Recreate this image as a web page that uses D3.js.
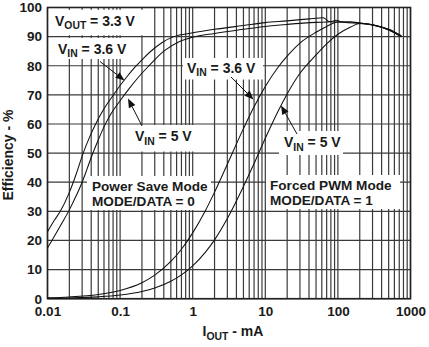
<!DOCTYPE html>
<html>
<head>
<meta charset="utf-8">
<script src="https://cdn.jsdelivr.net/npm/d3@7/dist/d3.min.js"></script>
<style>
  html, body { margin: 0; padding: 0; background: #fff; }
  svg { display: block; }
  text { font-family: "Liberation Sans", Arial, Helvetica, sans-serif; font-weight: bold; fill: #1a1a1a; }
</style>
</head>
<body>
<svg id="chart" width="429" height="347"></svg>
<script>
// ---------------- DATA ----------------
const xTickValues = [0.01, 0.1, 1, 10, 100, 1000];
const xTickLabels = ["0.01", "0.1", "1", "10", "100", "1000"];
const yTickValues = [0, 10, 20, 30, 40, 50, 60, 70, 80, 90, 100];
const yTickLabels = ["0", "10", "20", "30", "40", "50", "60", "70", "80", "90", "100"];

// Power Save Mode, VIN = 3.6 V
const currentPSM36 = [0.01, 0.0125, 0.015, 0.02, 0.025, 0.031, 0.038, 0.045, 0.06, 0.08,
  0.1, 0.125, 0.16, 0.2, 0.26, 0.38, 0.55, 1, 2, 5,
  10, 20, 40, 63, 68, 75, 100, 150, 200, 300, 500, 750];
const effPSM36 = [23, 27, 30, 36.5, 43, 50, 55.5, 59.5, 65.2, 69.8,
  73.2, 76.3, 79.5, 82, 84.8, 88, 90, 91.3, 92.5, 93.8,
  94.8, 95.4, 96.1, 96.5, 96, 95.2, 95, 95, 94.7, 94.1, 92.5, 90.2];

// Power Save Mode, VIN = 5 V
const currentPSM5 = [0.01, 0.0115, 0.015, 0.02, 0.025, 0.03, 0.035, 0.04, 0.05, 0.06,
  0.075, 0.1, 0.13, 0.175, 0.25, 0.4, 0.66, 1, 2, 5,
  10, 20, 50, 80, 95, 105, 120, 200, 300, 500, 750];
const effPSM5 = [17.4, 20, 25, 30.5, 35.5, 40, 44.5, 48.5, 54.5, 59,
  63.5, 68, 71.8, 75.8, 80, 85, 88.3, 89.8, 91.1, 92.5,
  93.5, 94.2, 94.9, 95.1, 95.6, 95.3, 94.9, 94.5, 94, 92.3, 90];

// Forced PWM Mode, VIN = 3.6 V
const currentPWM36 = [0.01, 0.02, 0.05, 0.1, 0.2, 0.3, 0.5, 0.7, 1, 1.5,
  2, 3, 5, 7, 10, 15, 20, 30, 50, 70,
  100, 150, 200, 300, 500, 750];
const effPWM36 = [0.3, 0.6, 1.45, 2.85, 5.5, 8.1, 12.8, 17, 22.6, 30.3,
  36.6, 46.2, 58.4, 65.9, 72.9, 79.5, 83.3, 87.8, 91.5, 93.5,
  95, 95, 94.7, 94.1, 92.5, 90.2];

// Forced PWM Mode, VIN = 5 V
const currentPWM5 = [0.01, 0.02, 0.05, 0.1, 0.2, 0.3, 0.5, 0.7, 1, 1.5,
  2, 3, 5, 7, 10, 15, 20, 30, 50, 70,
  100, 150, 200, 300, 500, 750];
const effPWM5 = [0.13, 0.25, 0.63, 1.26, 2.5, 3.7, 6, 8.2, 11.3, 16,
  20.2, 27.5, 38.5, 46.4, 55.1, 64.4, 70.3, 77.4, 83.7, 87.5,
  90.8, 93.3, 94.5, 94, 92.3, 90];

// ---------------- CHART ----------------
const svg = d3.select("#chart");
const mLeft = 47.5, mRight = 410.5, mTop = 7.5, mBottom = 298.7;

const x = d3.scaleLog().domain([0.01, 1000]).range([mLeft, mRight]);
const y = d3.scaleLinear().domain([0, 100]).range([mBottom, mTop]);

// grid: minor + major verticals
const vLines = [];
for (let e = -2; e < 3; e++) {
  for (let m = 1; m <= 9; m++) vLines.push(m * Math.pow(10, e));
}
vLines.push(1000);

const grid = svg.append("g");
grid.selectAll("line.v").data(vLines).join("line")
  .attr("x1", d => x(d)).attr("x2", d => x(d))
  .attr("y1", mTop).attr("y2", mBottom)
  .attr("stroke", "#3a3a3a").attr("stroke-width", 1.2);
grid.selectAll("line.h").data(yTickValues).join("line")
  .attr("x1", mLeft).attr("x2", mRight)
  .attr("y1", d => y(d)).attr("y2", d => y(d))
  .attr("stroke", "#3a3a3a").attr("stroke-width", 1.2);

// white label backgrounds (cover grid)
const boxes = [
  [48.5, 9.8, 99, 25.5],
  [48.5, 38, 82.5, 21],
  [131, 125, 63, 26.5],
  [183, 58, 80, 21.5],
  [279, 131, 64, 24],
  [87, 176, 124, 34],
  [266, 175, 134, 34]
];
svg.append("g").selectAll("rect").data(boxes).join("rect")
  .attr("x", d => d[0]).attr("y", d => d[1])
  .attr("width", d => d[2]).attr("height", d => d[3])
  .attr("fill", "#fff");

// border
svg.append("rect")
  .attr("x", mLeft).attr("y", mTop)
  .attr("width", mRight - mLeft).attr("height", mBottom - mTop)
  .attr("fill", "none").attr("stroke", "#222").attr("stroke-width", 1.6);

// curves
const series = [
  [currentPSM36, effPSM36],
  [currentPSM5, effPSM5],
  [currentPWM36, effPWM36],
  [currentPWM5, effPWM5]
];
const line = d3.line()
  .x(d => x(d[0])).y(d => y(d[1]))
  .curve(d3.curveMonotoneX);
svg.append("g").selectAll("path").data(series).join("path")
  .attr("d", s => line(s[0].map((c, i) => [c, s[1][i]])))
  .attr("fill", "none").attr("stroke", "#111").attr("stroke-width", 1.05);

// axes (labels only)
const xAxis = d3.axisBottom(x).tickValues(xTickValues)
  .tickFormat((d, i) => xTickLabels[i]).tickSize(0).tickPadding(7.5);
const gx = svg.append("g").attr("transform", `translate(0,${mBottom})`).call(xAxis);
gx.select(".domain").remove();
gx.selectAll("text").style("font-size", "13.5px").attr("fill", "#1a1a1a")
  .attr("font-family", "Liberation Sans, Arial, sans-serif").attr("font-weight", "bold");

const yAxis = d3.axisLeft(y).tickValues(yTickValues)
  .tickFormat((d, i) => yTickLabels[i]).tickSize(0).tickPadding(5.5);
const gy = svg.append("g").attr("transform", `translate(${mLeft},0)`).call(yAxis);
gy.select(".domain").remove();
gy.selectAll("text").style("font-size", "13.5px").attr("fill", "#1a1a1a")
  .attr("font-family", "Liberation Sans, Arial, sans-serif").attr("font-weight", "bold");

// helper: text with subscript
function subText(g, xPos, yPos, main, sub, rest, size) {
  const t = g.append("text").attr("x", xPos).attr("y", yPos).style("font-size", size + "px");
  t.append("tspan").text(main);
  t.append("tspan").text(sub).attr("dy", 3.5).style("font-size", (size * 0.74) + "px");
  t.append("tspan").text(rest).attr("dy", -3.5);
  return t;
}

const ann = svg.append("g");
subText(ann, 55, 25.5, "V", "OUT", " = 3.3 V", 14);
subText(ann, 58, 53.5, "V", "IN", " = 3.6 V", 14);
subText(ann, 135, 141, "V", "IN", " = 5 V", 14);
subText(ann, 187, 72.5, "V", "IN", " = 3.6 V", 14);
subText(ann, 284, 147, "V", "IN", " = 5 V", 14);

ann.append("text").attr("x", 92).attr("y", 191).style("font-size", "13.6px").text("Power Save Mode");
ann.append("text").attr("x", 92).attr("y", 206).style("font-size", "13.6px").text("MODE/DATA = 0");
ann.append("text").attr("x", 270).attr("y", 190).style("font-size", "13.6px").text("Forced PWM Mode");
ann.append("text").attr("x", 270).attr("y", 204.5).style("font-size", "13.6px").text("MODE/DATA = 1");

// arrows [tailX, tailY, tipX, tipY]
const arrows = [
  [100, 61.5, 124.5, 80.5],
  [142, 126, 128, 98.5],
  [231, 77, 253.5, 99.5],
  [297, 134, 281, 105.5]
];
arrows.forEach(a => {
  const [x1, y1, x2, y2] = a;
  const ang = Math.atan2(y2 - y1, x2 - x1);
  const L = 9, W = 3.6;
  const bx = x2 - L * Math.cos(ang), by = y2 - L * Math.sin(ang);
  ann.append("line").attr("x1", x1).attr("y1", y1).attr("x2", bx).attr("y2", by)
    .attr("stroke", "#111").attr("stroke-width", 1);
  const p1 = [bx + W * Math.sin(ang), by - W * Math.cos(ang)];
  const p2 = [bx - W * Math.sin(ang), by + W * Math.cos(ang)];
  ann.append("polygon").attr("points", [[x2, y2], p1, p2].map(p => p.join(",")).join(" "))
    .attr("fill", "#111");
});

// axis titles
const xt = svg.append("text").attr("x", 233).attr("y", 336).attr("text-anchor", "middle")
  .style("font-size", "14px");
xt.append("tspan").text("I");
xt.append("tspan").text("OUT").attr("dy", 3.5).style("font-size", "10.4px");
xt.append("tspan").text(" - mA").attr("dy", -3.5);

svg.append("text").attr("transform", "translate(13,155) rotate(-90)")
  .attr("text-anchor", "middle").style("font-size", "14px").text("Efficiency - %");
</script>
</body>
</html>
